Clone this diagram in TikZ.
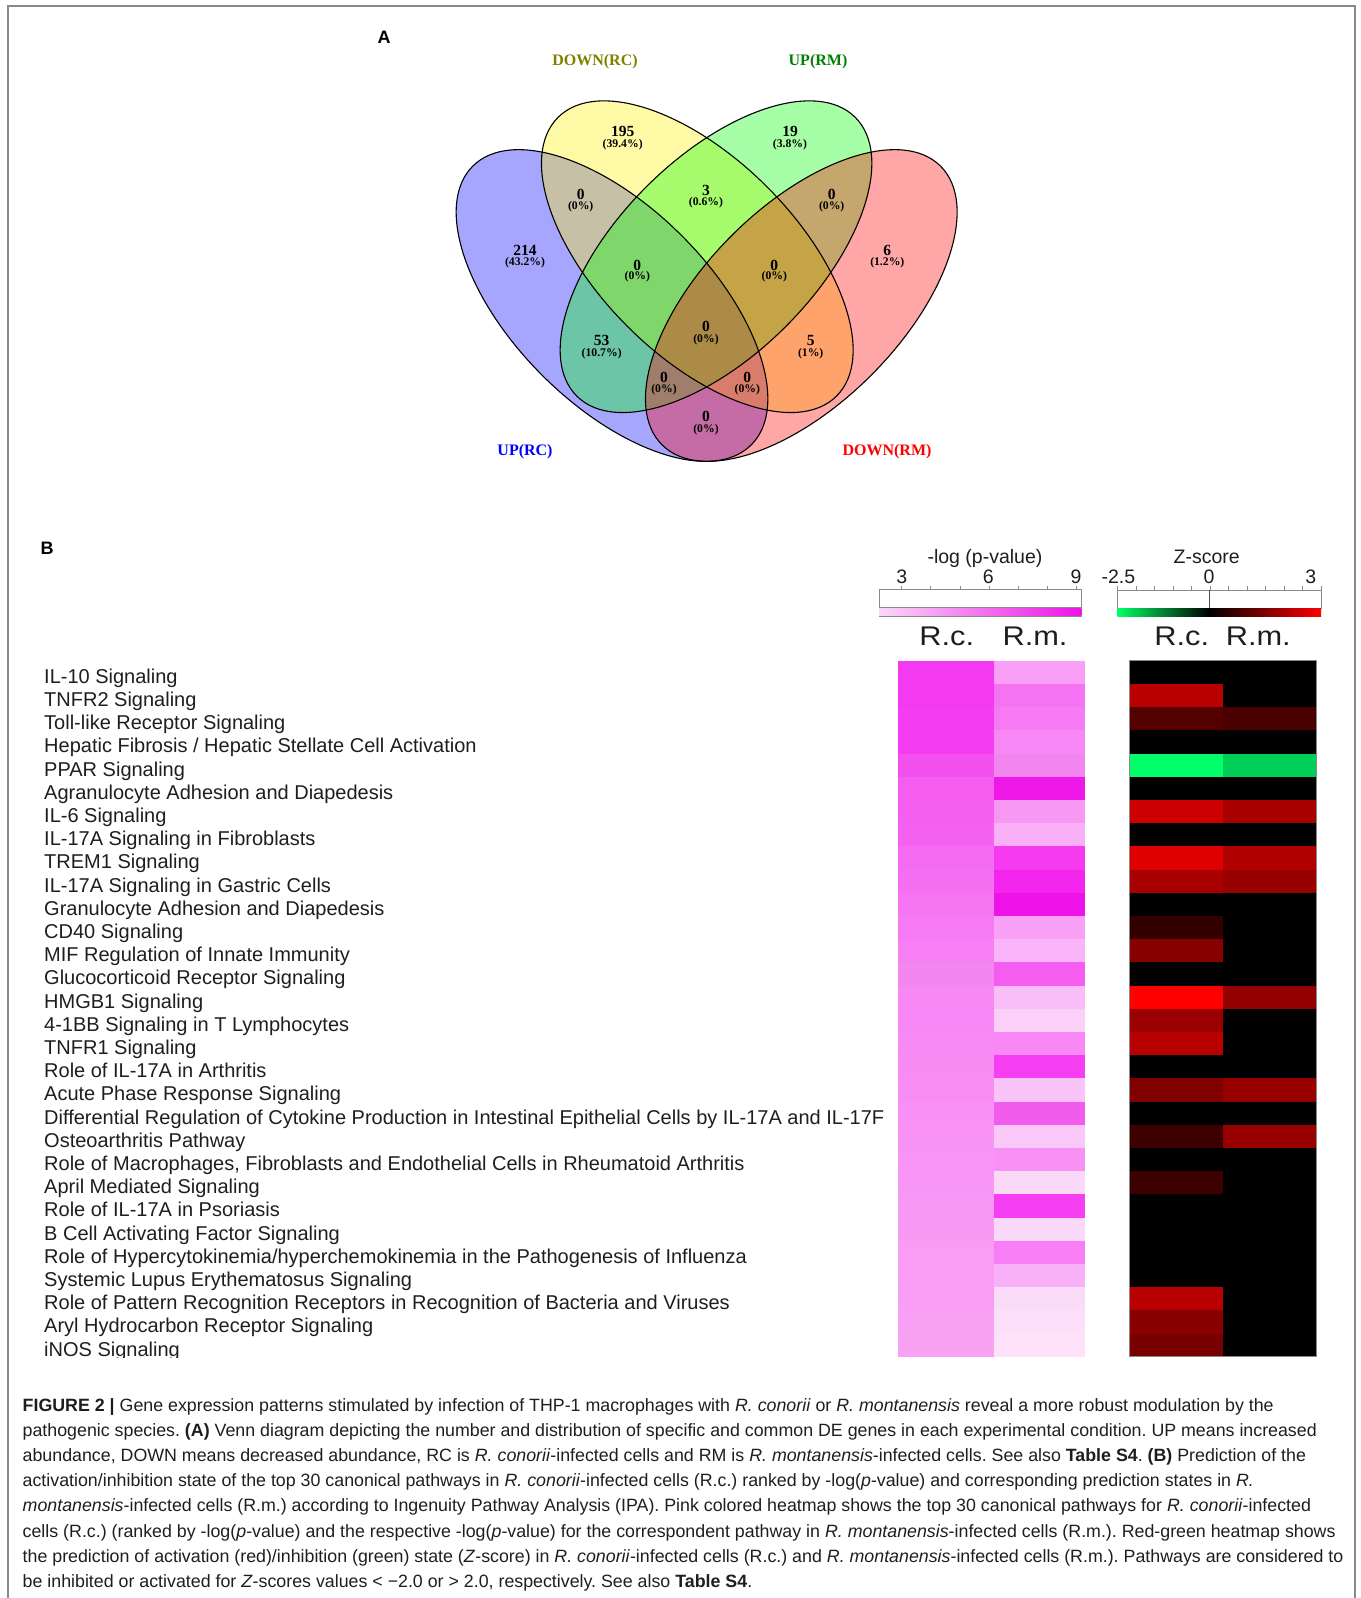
\documentclass[tikz,border=0pt]{standalone}
\usepackage{fontspec}
\setmainfont{Liberation Sans}
\newfontfamily\vennfont{Liberation Serif}
\newfontfamily\headfont[FakeStretch=1.14]{Liberation Sans}
\definecolor{olivelab}{HTML}{808000}
\definecolor{greenlab}{HTML}{008000}
\definecolor{pgradA}{HTML}{FAD8F8}
\definecolor{pgradB}{HTML}{EE10E8}
\definecolor{zgreen}{HTML}{00FF66}
\definecolor{labtext}{HTML}{1E1E1E}
\definecolor{frame}{HTML}{8A8A8A}
\begin{document}
\begin{tikzpicture}[x=1pt,y=-1pt,
  rowlab/.style={anchor=base west, inner sep=0pt, font=\fontsize{20}{21}\selectfont, text=labtext},
  vnum/.style={inner sep=0pt, font=\vennfont\bfseries\fontsize{15.5}{15.5}\selectfont},
  vpct/.style={inner sep=0pt, font=\vennfont\bfseries\fontsize{11.7}{12}\selectfont},
  setlab/.style={inner sep=0pt, font=\vennfont\bfseries\fontsize{16}{16}\selectfont},
  captxt/.style={anchor=base west, inner sep=0pt, font=\fontsize{17.8}{20}\selectfont, text=labtext},
  leg/.style={inner sep=0pt, font=\fontsize{19.5}{20}\selectfont, text=labtext},
  head/.style={inner sep=0pt, font=\headfont\fontsize{27}{28}\selectfont, text=labtext},
  panel/.style={inner sep=0pt, font=\bfseries\fontsize{18}{18}\selectfont},
  vfill/.style={fill opacity=0.35},
  vline/.style={draw=black, line width=1.1pt}
]
\useasboundingbox (0,0) rectangle (1360,1598);
\frenchspacing
% frame
\draw[frame, line width=1.2pt] (8,1598) -- (8,6) -- (1355,6) -- (1355,1598);

% ---------------- Panel A : Venn ----------------
\node[panel] (labA) at (384,37) {A};
\fill[blue,vfill,shift={(612,305.5)},rotate=-45] (0,0) ellipse [x radius=197pt, y radius=98.7pt];
\fill[yellow,vfill,shift={(697.3,256.7)},rotate=-45] (0,0) ellipse [x radius=197pt, y radius=98.7pt];
\fill[green,vfill,shift={(716,256.7)},rotate=45] (0,0) ellipse [x radius=197pt, y radius=98.7pt];
\fill[red,vfill,shift={(801.3,305.5)},rotate=45] (0,0) ellipse [x radius=197pt, y radius=98.7pt];
\draw[vline,shift={(612,305.5)},rotate=-45] (0,0) ellipse [x radius=197pt, y radius=98.7pt];
\draw[vline,shift={(697.3,256.7)},rotate=-45] (0,0) ellipse [x radius=197pt, y radius=98.7pt];
\draw[vline,shift={(716,256.7)},rotate=45] (0,0) ellipse [x radius=197pt, y radius=98.7pt];
\draw[vline,shift={(801.3,305.5)},rotate=45] (0,0) ellipse [x radius=197pt, y radius=98.7pt];

\node[setlab, text=olivelab] (sDRC) at (595,62) {DOWN(RC)};
\node[setlab, text=greenlab] (sURM) at (818,62) {UP(RM)};
\node[setlab, text=blue] (sURC) at (525,452) {UP(RC)};
\node[setlab, text=red] (sDRM) at (887,452) {DOWN(RM)};

\node[vnum] (n01) at (525,250) {214};   \node[vpct] (p01) at (525,262.7) {(43.2\%)};
\node[vnum] (n02) at (622.7,131.7) {195}; \node[vpct] (p02) at (622.7,145) {(39.4\%)};
\node[vnum] (n03) at (790,131.7) {19};  \node[vpct] (p03) at (790,145) {(3.8\%)};
\node[vnum] (n04) at (887.3,250) {6};   \node[vpct] (p04) at (887.3,262.7) {(1.2\%)};
\node[vnum] (n05) at (580.7,194) {0};   \node[vpct] (p05) at (580.7,206.7) {(0\%)};
\node[vnum] (n06) at (706,190) {3};     \node[vpct] (p06) at (706,202.7) {(0.6\%)};
\node[vnum] (n07) at (831.7,194) {0};   \node[vpct] (p07) at (831.7,206.7) {(0\%)};
\node[vnum] (n08) at (637.3,265) {0};   \node[vpct] (p08) at (637.3,276.7) {(0\%)};
\node[vnum] (n09) at (774.3,265) {0};   \node[vpct] (p09) at (774.3,276.7) {(0\%)};
\node[vnum] (n10) at (601.7,340) {53};  \node[vpct] (p10) at (601.7,353.3) {(10.7\%)};
\node[vnum] (n11) at (706,326.7) {0};   \node[vpct] (p11) at (706,339.3) {(0\%)};
\node[vnum] (n12) at (810.7,340) {5};   \node[vpct] (p12) at (810.7,353.3) {(1\%)};
\node[vnum] (n13) at (664,377.3) {0};   \node[vpct] (p13) at (664,389.3) {(0\%)};
\node[vnum] (n14) at (747.3,377.3) {0}; \node[vpct] (p14) at (747.3,389.3) {(0\%)};
\node[vnum] (n15) at (706,416.7) {0};   \node[vpct] (p15) at (706,430) {(0\%)};

% ---------------- Panel B ----------------
\node[panel] (labB) at (47,548) {B};

% legends
\node[leg] (plt) at (985,558.3) {-log (p-value)};
\node[leg] (pt3) at (901.7,576.7) {3};
\node[leg] (pt6) at (988.3,576.7) {6};
\node[leg] (pt9) at (1076,576.7) {9};
\draw[frame, fill=white, line width=0.6pt] (879,589.3) rectangle (1081.7,607.3);
\foreach \k in {0,...,6} \draw[frame, line width=0.6pt] ({901.7+29.05*\k},585.5) -- ({901.7+29.05*\k},589.3);
\shade[left color=pgradA, right color=pgradB] (879,608.3) rectangle (1081.7,615.6);
\draw[frame, line width=0.6pt] (879,616) -- (1081.7,616);

\node[leg] (zlt) at (1206.7,556.7) {Z-score};
\node[leg] (zt1) at (1118.3,576.7) {-2.5};
\node[leg] (zt2) at (1209,576.7) {0};
\node[leg] (zt3) at (1310.7,576.7) {3};
\draw[frame, fill=white, line width=0.6pt] (1117.7,590) rectangle (1321,608.3);
\draw[black!70, line width=0.8pt] (1209,590) -- (1209,608.3);
\foreach \k in {0,...,11} \draw[frame, line width=0.6pt] ({1117.7+18.48*\k},586) -- ({1117.7+18.48*\k},590);
\shade[left color=zgreen, right color=black] (1117.7,608.8) rectangle (1209,616);
\shade[left color=black, right color=red] (1209,608.8) rectangle (1321,616);

\node[head] (h1) at (946.7,636) {R.c.};
\node[head] (h2) at (1035,636) {R.m.};
\node[head] (h3) at (1181.7,636) {R.c.};
\node[head] (h4) at (1258.3,636) {R.m.};

% pink heatmap
\foreach \c [count=\i from 0] in {F43AF0,F43AF0,F43DF0,F43DF0,F250EE,F55CF0,F55FF0,F562F1,F56BF2,F56FF2,F675F3,F57AF3,F77FF4,F187EF,F888F4,F888F5,F88AF5,F88CF5,F88EF5,F890F5,F892F5,F894F5,F896F5,F898F5,F89AF4,F89CF4,F89CF4,F89EF4,F8A0F4,F8A2F4} {
  \definecolor{cellc}{HTML}{\c}
  \fill[cellc] (898.3,{660.7+23.2*\i}) rectangle (994.3,{660.7+23.2*(\i+1)});
}
\foreach \c [count=\i from 0] in {F9A0F6,F572F2,F57AF3,F888F5,F285F0,EE18E8,F898F5,F9B0F7,F53AF0,F324EE,EE12E8,F9A0F7,FAB4F8,F55CF0,F9BDF8,FAD0F9,F888F5,F63FF2,F9C5F8,F25CEE,F9C8F8,F890F5,F9D8F8,F63EF2,F9D8F9,F87EF5,F8B0F7,FADCF9,FCE0F9,FDE2F9} {
  \definecolor{cellc}{HTML}{\c}
  \fill[cellc] (994.3,{660.7+23.2*\i}) rectangle (1085,{660.7+23.2*(\i+1)});
}
% z-score heatmap
\foreach \c [count=\i from 0] in {000000,B80000,550000,000000,00FF6A,000000,CC0000,000000,E00000,A80000,000000,330000,880000,000000,FF0000,9A0000,B80000,000000,800000,000000,3C0000,000000,3C0000,000000,000000,000000,000000,B80000,8A0000,780000} {
  \definecolor{cellc}{HTML}{\c}
  \fill[cellc] (1129.3,{660.7+23.2*\i}) rectangle (1222.7,{660.7+23.2*(\i+1)});
}
\foreach \c [count=\i from 0] in {000000,000000,4A0000,000000,00D05A,000000,A80000,000000,B00000,980000,000000,000000,000000,000000,920000,000000,000000,000000,980000,000000,980000,000000,000000,000000,000000,000000,000000,000000,000000,000000} {
  \definecolor{cellc}{HTML}{\c}
  \fill[cellc] (1222.7,{660.7+23.2*\i}) rectangle (1316.7,{660.7+23.2*(\i+1)});
}
\draw[frame, line width=0.6pt] (1129.3,660.7) rectangle (1316.7,1356.7);

% row labels
\begin{scope}
\clip (30,640) rectangle (890,1357);
\foreach \t [count=\i from 1] in {
 {IL-10 Signaling},
 {TNFR2 Signaling},
 {Toll-like Receptor Signaling},
 {Hepatic Fibrosis / Hepatic Stellate Cell Activation},
 {PPAR Signaling},
 {Agranulocyte Adhesion and Diapedesis},
 {IL-6 Signaling},
 {IL-17A Signaling in Fibroblasts},
 {TREM1 Signaling},
 {IL-17A Signaling in Gastric Cells},
 {Granulocyte Adhesion and Diapedesis},
 {CD40 Signaling},
 {MIF Regulation of Innate Immunity},
 {Glucocorticoid Receptor Signaling},
 {HMGB1 Signaling},
 {4-1BB Signaling in T Lymphocytes},
 {TNFR1 Signaling},
 {Role of IL-17A in Arthritis},
 {Acute Phase Response Signaling},
 {Differential Regulation of Cytokine Production in Intestinal Epithelial Cells by IL-17A and IL-17F},
 {Osteoarthritis Pathway},
 {Role of Macrophages, Fibroblasts and Endothelial Cells in Rheumatoid Arthritis},
 {April Mediated Signaling},
 {Role of IL-17A in Psoriasis},
 {B Cell Activating Factor Signaling},
 {Role of Hypercytokinemia/hyperchemokinemia in the Pathogenesis of Influenza},
 {Systemic Lupus Erythematosus Signaling},
 {Role of Pattern Recognition Receptors in Recognition of Bacteria and Viruses},
 {Aryl Hydrocarbon Receptor Signaling},
 {iNOS Signaling}} {
  \node[rowlab] (row\i) at (44,{660.7+23.2*\i-0.6}) {\t};
}
\end{scope}

% caption
\node[captxt] (cap1) at (22.5,1411) {\textbf{FIGURE 2 |} Gene expression patterns stimulated by infection of THP-1 macrophages with \textit{R. conorii} or \textit{R. montanensis} reveal a more robust modulation by the};
\node[captxt] (cap2) at (22.5,1436.2) {pathogenic species. \textbf{(A)} Venn diagram depicting the number and distribution of specific and common DE genes in each experimental condition. UP means increased};
\node[captxt] (cap3) at (22.5,1461.4) {abundance, DOWN means decreased abundance, RC is \textit{R. conorii}-infected cells and RM is \textit{R. montanensis}-infected cells. See also \textbf{Table S4}. \textbf{(B)} Prediction of the};
\node[captxt] (cap4) at (22.5,1486.6) {activation/inhibition state of the top 30 canonical pathways in \textit{R. conorii}-infected cells (R.c.) ranked by -log(\textit{p}-value) and corresponding prediction states in \textit{R.}};
\node[captxt] (cap5) at (22.5,1511.8) {\textit{montanensis}-infected cells (R.m.) according to Ingenuity Pathway Analysis (IPA). Pink colored heatmap shows the top 30 canonical pathways for \textit{R. conorii}-infected};
\node[captxt] (cap6) at (22.5,1537) {cells (R.c.) (ranked by -log(\textit{p}-value) and the respective -log(\textit{p}-value) for the correspondent pathway in \textit{R. montanensis}-infected cells (R.m.). Red-green heatmap shows};
\node[captxt] (cap7) at (22.5,1562.2) {the prediction of activation (red)/inhibition (green) state (\textit{Z}-score) in \textit{R. conorii}-infected cells (R.c.) and \textit{R. montanensis}-infected cells (R.m.). Pathways are considered to};
\node[captxt] (cap8) at (22.5,1587.4) {be inhibited or activated for \textit{Z}-scores values < −2.0 or > 2.0, respectively. See also \textbf{Table S4}.};
\end{tikzpicture}
\end{document}
